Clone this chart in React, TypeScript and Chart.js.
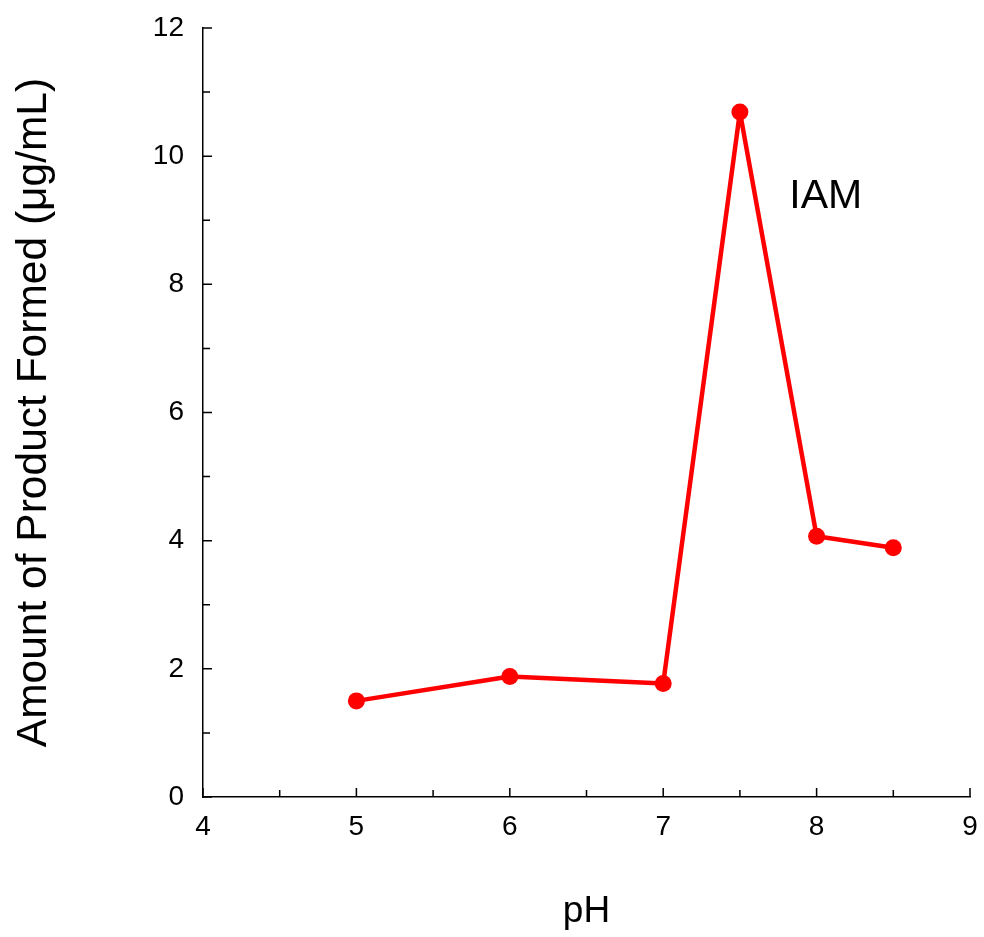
import React, { useEffect, useRef } from "react";
import { Chart, registerables } from "chart.js";

Chart.register(...registerables);

const phValues = [5, 6, 7, 7.5, 8, 8.5];
const productValues = [1.5, 1.88, 1.77, 10.69, 4.07, 3.89];
const xTickLabels = [4, 5, 6, 7, 8, 9];
const yTickLabels = [0, 2, 4, 6, 8, 10, 12];
const xMinorTicks = [4.5, 5.5, 6.5, 7.5, 8.5];
const yMinorTicks = [1, 3, 5, 7, 9, 11];
const seriesLabel = "IAM";
const labelPosition = { x: 8.06, y: 9.36 };

const FONT = "'Liberation Sans', Arial, Helvetica, sans-serif";

const innerTicksPlugin = {
  id: "innerTicks",
  afterDraw(chart: any) {
    const ctx = chart.ctx;
    const xs = chart.scales.x;
    const ys = chart.scales.y;
    const area = chart.chartArea;
    ctx.save();
    ctx.strokeStyle = "#000";
    ctx.lineWidth = 1.5;
    const major = 9;
    const minor = 7;
    ctx.beginPath();
    xTickLabels.forEach((v) => {
      const px = xs.getPixelForValue(v);
      ctx.moveTo(px, area.bottom);
      ctx.lineTo(px, area.bottom - major);
    });
    xMinorTicks.forEach((v) => {
      const px = xs.getPixelForValue(v);
      ctx.moveTo(px, area.bottom);
      ctx.lineTo(px, area.bottom - minor);
    });
    yTickLabels.forEach((v) => {
      const py = ys.getPixelForValue(v);
      ctx.moveTo(area.left, py);
      ctx.lineTo(area.left + major, py);
    });
    yMinorTicks.forEach((v) => {
      const py = ys.getPixelForValue(v);
      ctx.moveTo(area.left, py);
      ctx.lineTo(area.left + minor, py);
    });
    ctx.stroke();

    ctx.fillStyle = "#000";
    ctx.font = `41px ${FONT}`;
    ctx.textAlign = "center";
    ctx.textBaseline = "middle";
    ctx.fillText(
      seriesLabel,
      xs.getPixelForValue(labelPosition.x),
      ys.getPixelForValue(labelPosition.y)
    );
    ctx.restore();
  },
};

const zeroPadding = (s: any) => {
  s.paddingTop = 0;
  s.paddingBottom = 0;
  s.paddingLeft = 0;
  s.paddingRight = 0;
};

export default function App() {
  const ref = useRef<HTMLCanvasElement | null>(null);
  useEffect(() => {
    if (!ref.current) return;
    const chart = new Chart(ref.current, {
      type: "scatter",
      data: {
        datasets: [
          {
            label: seriesLabel,
            data: phValues.map((x, i) => ({ x, y: productValues[i] })),
            showLine: true,
            borderColor: "#ff0000",
            backgroundColor: "#ff0000",
            borderWidth: 4.5,
            borderJoinStyle: "round",
            borderCapStyle: "round",
            pointRadius: 8.5,
            pointBorderWidth: 0,
            pointBackgroundColor: "#ff0000",
          },
        ],
      },
      options: {
        responsive: false,
        animation: false,
        layout: { padding: { top: 28, right: 14, left: 0, bottom: 0 } },
        plugins: { legend: { display: false }, tooltip: { enabled: false } },
        scales: {
          x: {
            type: "linear",
            min: 4,
            max: 9,
            grid: { display: false, drawTicks: false },
            border: { display: true, color: "#000", width: 1.5 },
            afterBuildTicks: (s: any) => {
              s.ticks = xTickLabels.map((v) => ({ value: v }));
            },
            afterFit: (s: any) => {
              s.height = 140;
              zeroPadding(s);
            },
            ticks: {
              color: "#000",
              font: { family: FONT, size: 28 },
              padding: 13,
              maxRotation: 0,
            },
            title: {
              display: true,
              text: "pH",
              color: "#000",
              font: { family: FONT, size: 37 },
              padding: { top: 0, bottom: 3 },
            },
          },
          y: {
            type: "linear",
            min: 0,
            max: 12,
            grid: { display: false, drawTicks: false },
            border: { display: true, color: "#000", width: 1.5 },
            afterBuildTicks: (s: any) => {
              s.ticks = yTickLabels.map((v) => ({ value: v }));
            },
            afterFit: (s: any) => {
              s.width = 203;
              zeroPadding(s);
            },
            ticks: {
              color: "#000",
              font: { family: FONT, size: 28 },
              padding: 19,
            },
            title: {
              display: true,
              text: "Amount of Product Formed (μg/mL)",
              color: "#000",
              font: { family: FONT, size: 42.5 },
              padding: { top: 9, bottom: 0 },
            },
          },
        },
      },
      plugins: [innerTicksPlugin],
    });
    return () => chart.destroy();
  }, []);
  return (
    <div style={{ position: "fixed", left: 0, top: 0, width: 984, height: 937, background: "#fff" }}>
      <canvas ref={ref} width={984} height={937} style={{ display: "block" }} />
    </div>
  );
}
